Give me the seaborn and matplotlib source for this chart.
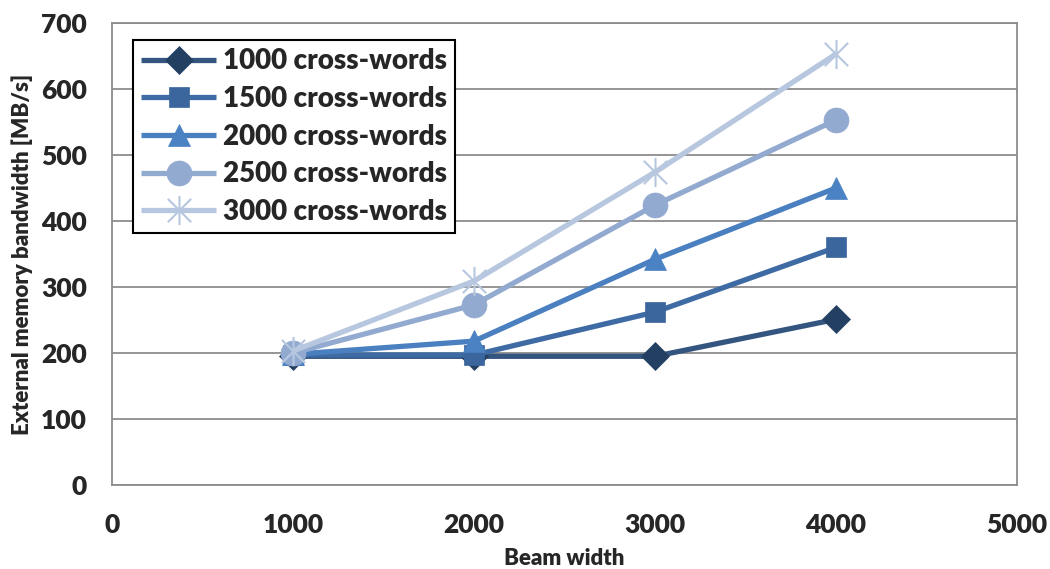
import numpy as np
import pandas as pd
import matplotlib
matplotlib.use("Agg")
import matplotlib.pyplot as plt
from matplotlib.path import Path
import seaborn as sns

# Beam widths on the x axis
beam_width = [1000, 2000, 3000, 4000]

# External memory bandwidth [MB/s] per cross-word count
bw_1000 = [195, 195, 195, 251]
bw_1500 = [197, 197, 262, 360]
bw_2000 = [198, 218, 342, 450]
bw_2500 = [200, 273, 424, 553]
bw_3000 = [203, 309, 474, 653]

series_names = ["1000 cross-words", "1500 cross-words", "2000 cross-words",
                "2500 cross-words", "3000 cross-words"]
series_values = [bw_1000, bw_1500, bw_2000, bw_2500, bw_3000]

x_ticks = [0, 1000, 2000, 3000, 4000, 5000]
y_ticks = [0, 100, 200, 300, 400, 500, 600, 700]

rows = []
for name, vals in zip(series_names, series_values):
    for x, y in zip(beam_width, vals):
        rows.append({"Beam width": x, "bandwidth": y, "series": name})
df = pd.DataFrame(rows)

sns.set_theme(style="white")
plt.rcParams["font.family"] = ["Lato", "DejaVu Sans"]
WEIGHT = "heavy"

# asterisk: X plus a vertical stroke
star = Path([(0, -1), (0, 1), (-0.8, -0.8), (0.8, 0.8), (-0.8, 0.8), (0.8, -0.8)],
            [Path.MOVETO, Path.LINETO, Path.MOVETO, Path.LINETO, Path.MOVETO, Path.LINETO])

line_colors = ["#34557F", "#3E6BA3", "#4A80C0", "#93AAD0", "#B7C7DF"]
marker_colors = ["#233F62", "#3A659D", "#4A82C4", "#93AAD0", "#B7C7DF"]
markers = ["D", "s", "^", "o", star]
sizes = [14, 15, 16, 18, 21]

fig = plt.figure(figsize=(10.5, 5.69), dpi=100)
ax = fig.add_axes([112 / 1050, 1 - 485 / 569, (1017 - 112) / 1050, (485 - 23) / 569])

for name, lc, mc, mk, ms in zip(series_names, line_colors, marker_colors, markers, sizes):
    sub = df[df["series"] == name]
    sns.lineplot(data=sub, x="Beam width", y="bandwidth", ax=ax, color=lc,
                 linewidth=3.8, marker=mk, markersize=ms,
                 markerfacecolor=mc, markeredgecolor=mc,
                 markeredgewidth=1.5 if mk is star else 0.5,
                 label=name, solid_capstyle="butt")

ax.set_xlim(0, 5000)
ax.set_ylim(0, 700)
ax.set_xticks(x_ticks)
ax.set_yticks(y_ticks)
ax.tick_params(axis="y", labelsize=19, length=0, pad=18)
ax.tick_params(axis="x", labelsize=19, length=0, pad=20)
for lbl in ax.get_xticklabels() + ax.get_yticklabels():
    lbl.set_fontweight(WEIGHT)
ax.yaxis.grid(True, color="#8C8C8C", linewidth=1.3)
ax.xaxis.grid(False)
for sp in ax.spines.values():
    sp.set_color("#8C8C8C")
    sp.set_linewidth(1.3)

ax.set_xlabel("Beam width", fontsize=16, fontweight=WEIGHT, labelpad=8)
ax.set_ylabel("External memory bandwidth [MB/s]", fontsize=16, fontweight=WEIGHT, labelpad=6)

leg = ax.legend(loc="upper left", bbox_to_anchor=(0.023, 0.963),
                frameon=True, fancybox=False, edgecolor="black", framealpha=1,
                handlelength=2.7, handletextpad=0.25, labelspacing=0.42,
                borderpad=0.3, borderaxespad=0.0,
                prop={"weight": WEIGHT, "size": 20})
leg.get_frame().set_linewidth(1.5)

fig.savefig("out.png", dpi=100)
